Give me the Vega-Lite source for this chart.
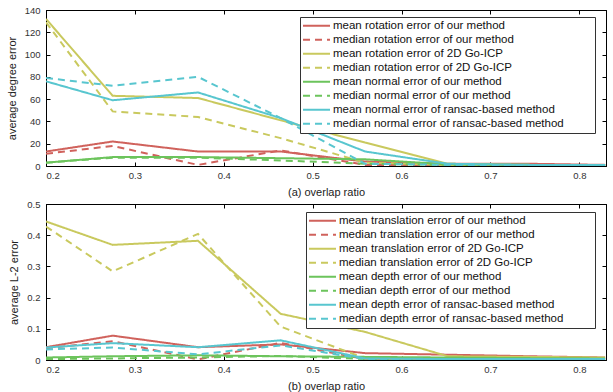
{
  "$schema": "https://vega.github.io/schema/vega-lite/v6.json",
  "padding": {"left": 5, "top": 4, "right": 5, "bottom": 0},
  "datasets": {
    "rot": [
      {"s":"mean rotation error of our method","x":0.2,"v":13},{"s":"mean rotation error of our method","x":0.275,"v":22},{"s":"mean rotation error of our method","x":0.371,"v":13},{"s":"mean rotation error of our method","x":0.464,"v":13},{"s":"mean rotation error of our method","x":0.559,"v":4},{"s":"mean rotation error of our method","x":0.652,"v":2},{"s":"mean rotation error of our method","x":0.745,"v":2},{"s":"mean rotation error of our method","x":0.829,"v":1},
      {"s":"median rotation error of our method","x":0.2,"v":11},{"s":"median rotation error of our method","x":0.275,"v":18},{"s":"median rotation error of our method","x":0.371,"v":1},{"s":"median rotation error of our method","x":0.464,"v":14},{"s":"median rotation error of our method","x":0.559,"v":1},{"s":"median rotation error of our method","x":0.652,"v":1},{"s":"median rotation error of our method","x":0.745,"v":1},{"s":"median rotation error of our method","x":0.829,"v":1},
      {"s":"mean rotation error of 2D Go-ICP","x":0.2,"v":132},{"s":"mean rotation error of 2D Go-ICP","x":0.275,"v":63},{"s":"mean rotation error of 2D Go-ICP","x":0.371,"v":61},{"s":"mean rotation error of 2D Go-ICP","x":0.464,"v":41},{"s":"mean rotation error of 2D Go-ICP","x":0.559,"v":21},{"s":"mean rotation error of 2D Go-ICP","x":0.652,"v":2},{"s":"mean rotation error of 2D Go-ICP","x":0.745,"v":1},{"s":"mean rotation error of 2D Go-ICP","x":0.829,"v":1},
      {"s":"median rotation error of 2D Go-ICP","x":0.2,"v":129},{"s":"median rotation error of 2D Go-ICP","x":0.275,"v":49},{"s":"median rotation error of 2D Go-ICP","x":0.371,"v":44},{"s":"median rotation error of 2D Go-ICP","x":0.464,"v":25},{"s":"median rotation error of 2D Go-ICP","x":0.559,"v":3},{"s":"median rotation error of 2D Go-ICP","x":0.652,"v":1},{"s":"median rotation error of 2D Go-ICP","x":0.745,"v":1},{"s":"median rotation error of 2D Go-ICP","x":0.829,"v":1},
      {"s":"mean normal error of our method","x":0.2,"v":3},{"s":"mean normal error of our method","x":0.275,"v":8},{"s":"mean normal error of our method","x":0.371,"v":8},{"s":"mean normal error of our method","x":0.464,"v":7},{"s":"mean normal error of our method","x":0.559,"v":6},{"s":"mean normal error of our method","x":0.652,"v":1.5},{"s":"mean normal error of our method","x":0.745,"v":1},{"s":"mean normal error of our method","x":0.829,"v":1},
      {"s":"median normal error of our method","x":0.2,"v":3},{"s":"median normal error of our method","x":0.275,"v":7.5},{"s":"median normal error of our method","x":0.371,"v":7.5},{"s":"median normal error of our method","x":0.464,"v":5},{"s":"median normal error of our method","x":0.559,"v":2},{"s":"median normal error of our method","x":0.652,"v":1},{"s":"median normal error of our method","x":0.745,"v":1},{"s":"median normal error of our method","x":0.829,"v":1},
      {"s":"mean normal error of ransac-based method","x":0.2,"v":76},{"s":"mean normal error of ransac-based method","x":0.275,"v":59},{"s":"mean normal error of ransac-based method","x":0.371,"v":66},{"s":"mean normal error of ransac-based method","x":0.464,"v":43},{"s":"mean normal error of ransac-based method","x":0.559,"v":13},{"s":"mean normal error of ransac-based method","x":0.652,"v":2},{"s":"mean normal error of ransac-based method","x":0.745,"v":1},{"s":"mean normal error of ransac-based method","x":0.829,"v":1},
      {"s":"median normal error of ransac-based method","x":0.2,"v":79},{"s":"median normal error of ransac-based method","x":0.275,"v":72},{"s":"median normal error of ransac-based method","x":0.371,"v":80},{"s":"median normal error of ransac-based method","x":0.464,"v":43},{"s":"median normal error of ransac-based method","x":0.559,"v":2},{"s":"median normal error of ransac-based method","x":0.652,"v":1},{"s":"median normal error of ransac-based method","x":0.745,"v":1},{"s":"median normal error of ransac-based method","x":0.829,"v":1}
    ],
    "trans": [
      {"s":"mean translation error of our method","x":0.2,"v":0.041},{"s":"mean translation error of our method","x":0.275,"v":0.078},{"s":"mean translation error of our method","x":0.371,"v":0.041},{"s":"mean translation error of our method","x":0.464,"v":0.05},{"s":"mean translation error of our method","x":0.559,"v":0.022},{"s":"mean translation error of our method","x":0.652,"v":0.017},{"s":"mean translation error of our method","x":0.745,"v":0.012},{"s":"mean translation error of our method","x":0.829,"v":0.008},
      {"s":"median translation error of our method","x":0.2,"v":0.038},{"s":"median translation error of our method","x":0.275,"v":0.06},{"s":"median translation error of our method","x":0.371,"v":0.002},{"s":"median translation error of our method","x":0.464,"v":0.055},{"s":"median translation error of our method","x":0.559,"v":0.003},{"s":"median translation error of our method","x":0.652,"v":0.003},{"s":"median translation error of our method","x":0.745,"v":0.002},{"s":"median translation error of our method","x":0.829,"v":0.002},
      {"s":"mean translation error of 2D Go-ICP","x":0.2,"v":0.444},{"s":"mean translation error of 2D Go-ICP","x":0.275,"v":0.369},{"s":"mean translation error of 2D Go-ICP","x":0.371,"v":0.382},{"s":"mean translation error of 2D Go-ICP","x":0.464,"v":0.148},{"s":"mean translation error of 2D Go-ICP","x":0.559,"v":0.09},{"s":"mean translation error of 2D Go-ICP","x":0.652,"v":0.012},{"s":"mean translation error of 2D Go-ICP","x":0.745,"v":0.01},{"s":"mean translation error of 2D Go-ICP","x":0.829,"v":0.008},
      {"s":"median translation error of 2D Go-ICP","x":0.2,"v":0.428},{"s":"median translation error of 2D Go-ICP","x":0.275,"v":0.284},{"s":"median translation error of 2D Go-ICP","x":0.371,"v":0.404},{"s":"median translation error of 2D Go-ICP","x":0.464,"v":0.107},{"s":"median translation error of 2D Go-ICP","x":0.559,"v":0.005},{"s":"median translation error of 2D Go-ICP","x":0.652,"v":0.003},{"s":"median translation error of 2D Go-ICP","x":0.745,"v":0.003},{"s":"median translation error of 2D Go-ICP","x":0.829,"v":0.003},
      {"s":"mean depth error of our method","x":0.2,"v":0.008},{"s":"mean depth error of our method","x":0.275,"v":0.012},{"s":"mean depth error of our method","x":0.371,"v":0.015},{"s":"mean depth error of our method","x":0.464,"v":0.012},{"s":"mean depth error of our method","x":0.559,"v":0.01},{"s":"mean depth error of our method","x":0.652,"v":0.008},{"s":"mean depth error of our method","x":0.745,"v":0.006},{"s":"mean depth error of our method","x":0.829,"v":0.005},
      {"s":"median depth error of our method","x":0.2,"v":0.003},{"s":"median depth error of our method","x":0.275,"v":0.005},{"s":"median depth error of our method","x":0.371,"v":0.008},{"s":"median depth error of our method","x":0.464,"v":0.013},{"s":"median depth error of our method","x":0.559,"v":0.003},{"s":"median depth error of our method","x":0.652,"v":0.002},{"s":"median depth error of our method","x":0.745,"v":0.002},{"s":"median depth error of our method","x":0.829,"v":0.002},
      {"s":"mean depth error of ransac-based method","x":0.2,"v":0.04},{"s":"mean depth error of ransac-based method","x":0.275,"v":0.054},{"s":"mean depth error of ransac-based method","x":0.371,"v":0.041},{"s":"mean depth error of ransac-based method","x":0.464,"v":0.063},{"s":"mean depth error of ransac-based method","x":0.559,"v":0.005},{"s":"mean depth error of ransac-based method","x":0.652,"v":0.003},{"s":"mean depth error of ransac-based method","x":0.745,"v":0.003},{"s":"mean depth error of ransac-based method","x":0.829,"v":0.003},
      {"s":"median depth error of ransac-based method","x":0.2,"v":0.034},{"s":"median depth error of ransac-based method","x":0.275,"v":0.04},{"s":"median depth error of ransac-based method","x":0.371,"v":0.018},{"s":"median depth error of ransac-based method","x":0.464,"v":0.047},{"s":"median depth error of ransac-based method","x":0.559,"v":0.003},{"s":"median depth error of ransac-based method","x":0.652,"v":0.002},{"s":"median depth error of ransac-based method","x":0.745,"v":0.002},{"s":"median depth error of ransac-based method","x":0.829,"v":0.002}
    ]
  },
  "spacing": 0,
  "vconcat": [
    {
      "width": 560, "height": 156,
      "data": {"name": "rot"},
      "layer": [
        {
          "mark": {"type": "line", "strokeWidth": 2, "clip": true},
          "encoding": {
            "x": {"field": "x", "type": "quantitative", "scale": {"domain": [0.2, 0.83], "nice": false, "zero": false}, "axis": {"orient": "bottom", "title": "(a) overlap ratio", "values": [0.2,0.3,0.4,0.5,0.6,0.7,0.8], "format": ".1f"}},
            "y": {"field": "v", "type": "quantitative", "scale": {"domain": [0, 140], "nice": false}, "axis": {"orient": "left", "title": "average degree error", "values": [0,20,40,60,80,100,120,140]}},
            "color": {"field": "s", "type": "nominal", "sort": null,
              "scale": {"domain": ["mean rotation error of our method","median rotation error of our method","mean rotation error of 2D Go-ICP","median rotation error of 2D Go-ICP","mean normal error of our method","median normal error of our method","mean normal error of ransac-based method","median normal error of ransac-based method"],
                        "range": ["#d0625c","#d0625c","#c9c95e","#c9c95e","#6cc45c","#6cc45c","#58c6cf","#58c6cf"]},
              "legend": {"orient": "none", "legendX": 254, "legendY": 7, "title": null, "labelExpr": "datum.label + '\u00a0\u00a0\u00a0\u00a0\u00a0\u00a0\u00a0\u00a0\u00a0\u200b'", "symbolType": "stroke", "symbolSize": 729, "symbolStrokeWidth": 2, "clipHeight": 13.3, "rowPadding": 0, "labelFontSize": 11.5, "labelColor": "#111", "labelOffset": 2, "padding": 2, "strokeColor": "#333", "fillColor": "white", "labelLimit": 400}},
            "strokeDash": {"field": "s", "type": "nominal", "sort": null,
              "scale": {"domain": ["mean rotation error of our method","median rotation error of our method","mean rotation error of 2D Go-ICP","median rotation error of 2D Go-ICP","mean normal error of our method","median normal error of our method","mean normal error of ransac-based method","median normal error of ransac-based method"],
                        "range": [[1,0],[7,5],[1,0],[7,5],[1,0],[7,5],[1,0],[7,5]]},
              "legend": {"orient": "none", "legendX": 254, "legendY": 7, "title": null, "labelExpr": "datum.label + '\u00a0\u00a0\u00a0\u00a0\u00a0\u00a0\u00a0\u00a0\u00a0\u200b'", "symbolType": "stroke", "symbolSize": 729, "symbolStrokeWidth": 2, "clipHeight": 13.3, "rowPadding": 0, "labelFontSize": 11.5, "labelColor": "#111", "labelOffset": 2, "padding": 2, "strokeColor": "#333", "fillColor": "white", "labelLimit": 400}}
          }
        },
        {
          "mark": {"type": "point", "opacity": 0},
          "encoding": {
            "x": {"field": "x", "type": "quantitative", "axis": {"orient": "top", "labels": false, "title": null, "values": [0.2,0.3,0.4,0.5,0.6,0.7,0.8]}},
            "y": {"field": "v", "type": "quantitative", "axis": {"orient": "right", "labels": false, "title": null, "values": [0,20,40,60,80,100,120,140]}}
          }
        }
      ],
      "resolve": {"axis": {"x": "independent", "y": "independent"}}
    },
    {
      "width": 560, "height": 156,
      "data": {"name": "trans"},
      "layer": [
        {
          "mark": {"type": "line", "strokeWidth": 2, "clip": true},
          "encoding": {
            "x": {"field": "x", "type": "quantitative", "scale": {"domain": [0.2, 0.83], "nice": false, "zero": false}, "axis": {"orient": "bottom", "title": "(b) overlap ratio", "values": [0.2,0.3,0.4,0.5,0.6,0.7,0.8], "format": ".1f"}},
            "y": {"field": "v", "type": "quantitative", "scale": {"domain": [0, 0.5], "nice": false}, "axis": {"orient": "left", "title": "average L-2 error", "values": [0,0.1,0.2,0.3,0.4,0.5], "labelExpr": "datum.value == 0 ? '0' : format(datum.value, '.1f')"}},
            "color": {"field": "s", "type": "nominal", "sort": null,
              "scale": {"domain": ["mean translation error of our method","median translation error of our method","mean translation error of 2D Go-ICP","median translation error of 2D Go-ICP","mean depth error of our method","median depth error of our method","mean depth error of ransac-based method","median depth error of ransac-based method"],
                        "range": ["#d0625c","#d0625c","#c9c95e","#c9c95e","#6cc45c","#6cc45c","#58c6cf","#58c6cf"]},
              "legend": {"orient": "none", "legendX": 260, "legendY": 8, "title": null, "labelExpr": "datum.label + '\u00a0\u00a0\u00a0\u00a0\u00a0\u00a0\u00a0\u00a0\u00a0\u200b'", "symbolType": "stroke", "symbolSize": 729, "symbolStrokeWidth": 2, "clipHeight": 13.3, "rowPadding": 0, "labelFontSize": 11.5, "labelColor": "#111", "labelOffset": 2, "padding": 2, "strokeColor": "#333", "fillColor": "white", "labelLimit": 400}},
            "strokeDash": {"field": "s", "type": "nominal", "sort": null,
              "scale": {"domain": ["mean translation error of our method","median translation error of our method","mean translation error of 2D Go-ICP","median translation error of 2D Go-ICP","mean depth error of our method","median depth error of our method","mean depth error of ransac-based method","median depth error of ransac-based method"],
                        "range": [[1,0],[7,5],[1,0],[7,5],[1,0],[7,5],[1,0],[7,5]]},
              "legend": {"orient": "none", "legendX": 260, "legendY": 8, "title": null, "labelExpr": "datum.label + '\u00a0\u00a0\u00a0\u00a0\u00a0\u00a0\u00a0\u00a0\u00a0\u200b'", "symbolType": "stroke", "symbolSize": 729, "symbolStrokeWidth": 2, "clipHeight": 13.3, "rowPadding": 0, "labelFontSize": 11.5, "labelColor": "#111", "labelOffset": 2, "padding": 2, "strokeColor": "#333", "fillColor": "white", "labelLimit": 400}}
          }
        },
        {
          "mark": {"type": "point", "opacity": 0},
          "encoding": {
            "x": {"field": "x", "type": "quantitative", "axis": {"orient": "top", "labels": false, "title": null, "values": [0.2,0.3,0.4,0.5,0.6,0.7,0.8]}},
            "y": {"field": "v", "type": "quantitative", "axis": {"orient": "right", "labels": false, "title": null, "values": [0,0.1,0.2,0.3,0.4,0.5]}}
          }
        }
      ],
      "resolve": {"axis": {"x": "independent", "y": "independent"}}
    }
  ],
  "resolve": {"scale": {"color": "independent", "strokeDash": "independent"}, "legend": {"color": "independent", "strokeDash": "independent"}},
  "config": {
    "font": "Liberation Sans",
    "view": {"stroke": "#000", "strokeWidth": 1},
    "axis": {"grid": false, "domainColor": "#000", "tickColor": "#000", "tickSize": -4, "labelFontSize": 9.5, "labelColor": "#333", "titleFontSize": 11, "titleColor": "#222", "titleFontWeight": "normal"},
    "axisX": {"labelPadding": 8, "titlePadding": 7},
    "axisY": {"labelPadding": 10, "titlePadding": 7}
  }
}
